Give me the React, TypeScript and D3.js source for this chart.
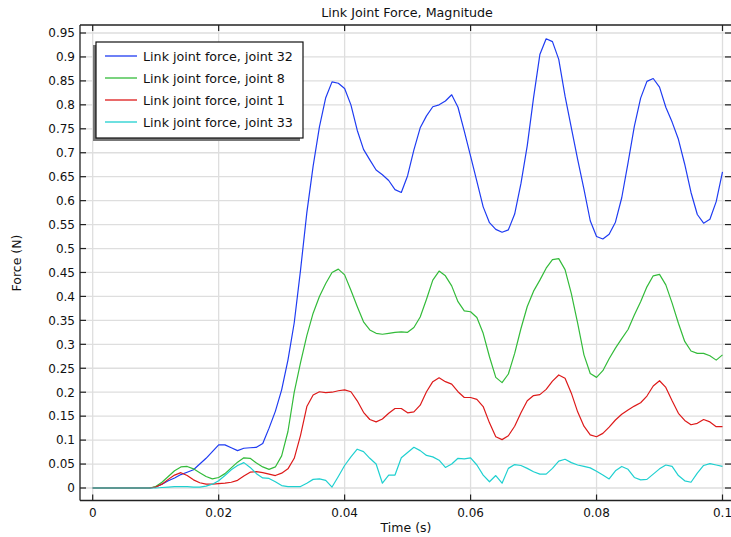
import React from "react";
import * as d3 from "d3";

const title = "Link Joint Force, Magnitude";
const xLabel = "Time (s)";
const yLabel = "Force (N)";

const time = [
  0, 0.001, 0.002, 0.003, 0.004, 0.005, 0.006, 0.007, 0.008, 0.009,
  0.010, 0.011, 0.012, 0.013, 0.014, 0.015, 0.016, 0.017, 0.018, 0.019,
  0.020, 0.021, 0.022, 0.023, 0.024, 0.025, 0.026, 0.027, 0.028, 0.029,
  0.030, 0.031, 0.032, 0.033, 0.034, 0.035, 0.036, 0.037, 0.038, 0.039,
  0.040, 0.041, 0.042, 0.043, 0.044, 0.045, 0.046, 0.047, 0.048, 0.049,
  0.050, 0.051, 0.052, 0.053, 0.054, 0.055, 0.056, 0.057, 0.058, 0.059,
  0.060, 0.061, 0.062, 0.063, 0.064, 0.065, 0.066, 0.067, 0.068, 0.069,
  0.070, 0.071, 0.072, 0.073, 0.074, 0.075, 0.076, 0.077, 0.078, 0.079,
  0.080, 0.081, 0.082, 0.083, 0.084, 0.085, 0.086, 0.087, 0.088, 0.089,
  0.090, 0.091, 0.092, 0.093, 0.094, 0.095, 0.096, 0.097, 0.098, 0.099,
  0.100,
];

const joint32 = [
  0, 0, 0, 0, 0, 0, 0, 0, 0, 0,
  0.002, 0.008, 0.015, 0.021, 0.028, 0.033, 0.038, 0.050, 0.062, 0.076,
  0.090, 0.090, 0.084, 0.078, 0.083, 0.084, 0.085, 0.093, 0.125, 0.160,
  0.205, 0.267, 0.345, 0.455, 0.575, 0.672, 0.754, 0.815, 0.848, 0.845,
  0.834, 0.800, 0.747, 0.707, 0.685, 0.664, 0.654, 0.642, 0.623, 0.617,
  0.652, 0.706, 0.752, 0.777, 0.796, 0.800, 0.808, 0.821, 0.795, 0.745,
  0.693, 0.640, 0.587, 0.554, 0.540, 0.534, 0.539, 0.572, 0.636, 0.715,
  0.815, 0.905, 0.938, 0.932, 0.895, 0.818, 0.752, 0.686, 0.624, 0.558,
  0.525, 0.520, 0.530, 0.555, 0.606, 0.679, 0.755, 0.814, 0.849, 0.855,
  0.837, 0.795, 0.764, 0.728, 0.676, 0.617, 0.571, 0.553, 0.561, 0.598,
  0.660,
];

const joint8 = [
  0, 0, 0, 0, 0, 0, 0, 0, 0, 0,
  0.003, 0.012, 0.024, 0.036, 0.044, 0.045, 0.040, 0.032, 0.024, 0.019,
  0.022, 0.030, 0.042, 0.054, 0.063, 0.062, 0.052, 0.044, 0.039, 0.044,
  0.067, 0.118, 0.200, 0.262, 0.318, 0.365, 0.400, 0.427, 0.450, 0.457,
  0.445, 0.413, 0.379, 0.347, 0.330, 0.323, 0.321, 0.323, 0.325, 0.326,
  0.325, 0.335, 0.357, 0.394, 0.434, 0.453, 0.443, 0.422, 0.389, 0.370,
  0.368, 0.356, 0.323, 0.274, 0.231, 0.220, 0.238, 0.281, 0.333, 0.379,
  0.411, 0.434, 0.459, 0.477, 0.479, 0.456, 0.406, 0.344, 0.278, 0.239,
  0.231, 0.245, 0.270, 0.292, 0.312, 0.331, 0.361, 0.389, 0.420, 0.443,
  0.446, 0.424, 0.386, 0.344, 0.306, 0.286, 0.281, 0.281, 0.276, 0.267,
  0.278,
];

const joint1 = [
  0, 0, 0, 0, 0, 0, 0, 0, 0, 0,
  0.002, 0.008, 0.018, 0.027, 0.032, 0.026, 0.017, 0.011, 0.008, 0.008,
  0.009, 0.010, 0.012, 0.016, 0.025, 0.033, 0.034, 0.032, 0.029, 0.026,
  0.031, 0.040, 0.062, 0.110, 0.170, 0.194, 0.201, 0.199, 0.200, 0.203,
  0.205, 0.201, 0.182, 0.158, 0.143, 0.138, 0.144, 0.156, 0.166, 0.166,
  0.157, 0.159, 0.173, 0.201, 0.222, 0.230, 0.222, 0.217, 0.201, 0.189,
  0.189, 0.185, 0.170, 0.136, 0.107, 0.101, 0.109, 0.129, 0.157, 0.182,
  0.193, 0.195, 0.206, 0.223, 0.236, 0.229, 0.198, 0.159, 0.129, 0.111,
  0.107, 0.114, 0.127, 0.142, 0.154, 0.163, 0.171, 0.178, 0.192, 0.213,
  0.224, 0.210, 0.182, 0.156, 0.141, 0.132, 0.135, 0.143, 0.138, 0.128,
  0.128,
];

const joint33 = [
  0, 0, 0, 0, 0, 0, 0, 0, 0, 0,
  0, 0.001, 0.002, 0.003, 0.003, 0.003, 0.002, 0.002, 0.004, 0.008,
  0.015, 0.026, 0.038, 0.047, 0.053, 0.043, 0.030, 0.021, 0.020, 0.013,
  0.005, 0.003, 0.003, 0.003, 0.010, 0.018, 0.019, 0.016, 0.002, 0.024,
  0.047, 0.065, 0.081, 0.076, 0.062, 0.050, 0.010, 0.027, 0.027, 0.063,
  0.074, 0.085, 0.078, 0.068, 0.065, 0.058, 0.043, 0.050, 0.062, 0.061,
  0.063, 0.048, 0.027, 0.013, 0.026, 0.010, 0.041, 0.049, 0.047, 0.041,
  0.034, 0.029, 0.029, 0.041, 0.056, 0.060, 0.053, 0.048, 0.045, 0.042,
  0.035, 0.027, 0.019, 0.036, 0.045, 0.039, 0.022, 0.017, 0.018, 0.029,
  0.040, 0.048, 0.045, 0.026, 0.015, 0.012, 0.031, 0.047, 0.051, 0.048,
  0.045,
];

const seriesNames = [
  "Link joint force, joint 32",
  "Link joint force, joint 8",
  "Link joint force, joint 1",
  "Link joint force, joint 33",
];
const seriesValues = [joint32, joint8, joint1, joint33];
const seriesColors = ["#1f3cf2", "#33bb3a", "#dd1a1a", "#1fd0d0"];

const xTicks = [0, 0.02, 0.04, 0.06, 0.08, 0.1];
const xTickLabels = ["0", "0.02", "0.04", "0.06", "0.08", "0.1"];
const yTicks = [
  0, 0.05, 0.1, 0.15, 0.2, 0.25, 0.3, 0.35, 0.4, 0.45, 0.5, 0.55, 0.6, 0.65,
  0.7, 0.75, 0.8, 0.85, 0.9, 0.95,
];
const yTickLabels = [
  "0", "0.05", "0.1", "0.15", "0.2", "0.25", "0.3", "0.35", "0.4", "0.45",
  "0.5", "0.55", "0.6", "0.65", "0.7", "0.75", "0.8", "0.85", "0.9", "0.95",
];

const W = 731;
const H = 537;
const frame = { left: 80, right: 731, top: 25, bottom: 500.5 };
const FONT = "'DejaVu Sans', sans-serif";

export default function App() {
  const x = d3.scaleLinear().domain([0, 0.1]).range([92.7, 722.5]);
  const y = d3.scaleLinear().domain([0, 0.95]).range([488, 33]);

  const line = d3
    .line<number>()
    .x((_, i) => x(time[i]))
    .y((d) => y(d));

  const legendX = 96;
  const legendY = 42;
  const legendW = 207;
  const legendH = 96;

  return (
    <svg
      width={W}
      height={H}
      style={{ position: "absolute", left: 0, top: 0, background: "#fff" }}
      fontFamily={FONT}
    >
      <defs>
        <clipPath id="plotClip">
          <rect
            x={frame.left}
            y={frame.top}
            width={frame.right - frame.left}
            height={frame.bottom - frame.top}
          />
        </clipPath>
      </defs>
      <rect x={0} y={0} width={W} height={H} fill="#fff" />

      {/* grid */}
      <g stroke="#dedede" strokeWidth={1.3}>
        {xTicks.map((t) => (
          <line key={"gx" + t} x1={x(t)} x2={x(t)} y1={frame.top} y2={frame.bottom} />
        ))}
        {yTicks.map((t) => (
          <line key={"gy" + t} x1={frame.left} x2={frame.right} y1={y(t)} y2={y(t)} />
        ))}
      </g>

      {/* series */}
      <g clipPath="url(#plotClip)" fill="none" strokeWidth={1.2} strokeLinejoin="round">
        {seriesValues.map((vals, i) => (
          <path key={seriesNames[i]} d={line(vals) || ""} stroke={seriesColors[i]} />
        ))}
      </g>

      {/* frame */}
      <g stroke="#222" strokeWidth={1.3} fill="none">
        <line x1={frame.left} x2={frame.left} y1={frame.top} y2={frame.bottom} />
        <line x1={frame.left} x2={frame.right} y1={frame.bottom} y2={frame.bottom} />
        <line x1={frame.left} x2={frame.right} y1={frame.top} y2={frame.top} />
      </g>

      {/* ticks */}
      <g stroke="#222" strokeWidth={1.2}>
        {xTicks.map((t) => (
          <g key={"tx" + t}>
            <line x1={x(t)} x2={x(t)} y1={frame.bottom} y2={frame.bottom - 6} />
            <line x1={x(t)} x2={x(t)} y1={frame.top} y2={frame.top + 6} />
          </g>
        ))}
        {yTicks.map((t) => (
          <g key={"ty" + t}>
            <line x1={frame.left} x2={frame.left + 6} y1={y(t)} y2={y(t)} />
            <line x1={frame.right - 6} x2={frame.right} y1={y(t)} y2={y(t)} />
          </g>
        ))}
      </g>

      {/* tick labels */}
      <g fontSize={12} fill="#111">
        {xTicks.map((t, i) => (
          <text key={"lx" + t} x={x(t)} y={517} textAnchor="middle">
            {xTickLabels[i]}
          </text>
        ))}
        {yTicks.map((t, i) => (
          <text key={"ly" + t} x={75} y={y(t) + 4.3} textAnchor="end">
            {yTickLabels[i]}
          </text>
        ))}
      </g>

      {/* axis titles */}
      <text x={406} y={532} textAnchor="middle" fontSize={12.5} fill="#111">
        {xLabel}
      </text>
      <text
        transform={`translate(21, 263) rotate(-90)`}
        textAnchor="middle"
        fontSize={12.5}
        fill="#111"
      >
        {yLabel}
      </text>
      <text x={407} y={17} textAnchor="middle" fontSize={12.7} fill="#111">
        {title}
      </text>

      {/* legend */}
      <rect x={legendX - 3} y={legendY + 3} width={legendW} height={legendH} fill="#777" />
      <rect
        x={legendX}
        y={legendY}
        width={legendW}
        height={legendH}
        fill="#fff"
        stroke="#111"
        strokeWidth={1.2}
      />
      {seriesNames.map((name, i) => {
        const cy = 56 + i * 22;
        return (
          <g key={"lg" + name}>
            <line x1={105} x2={137} y1={cy} y2={cy} stroke={seriesColors[i]} strokeWidth={1.3} />
            <text x={143} y={cy + 4.5} fontSize={12.7} fill="#111">
              {name}
            </text>
          </g>
        );
      })}
    </svg>
  );
}
